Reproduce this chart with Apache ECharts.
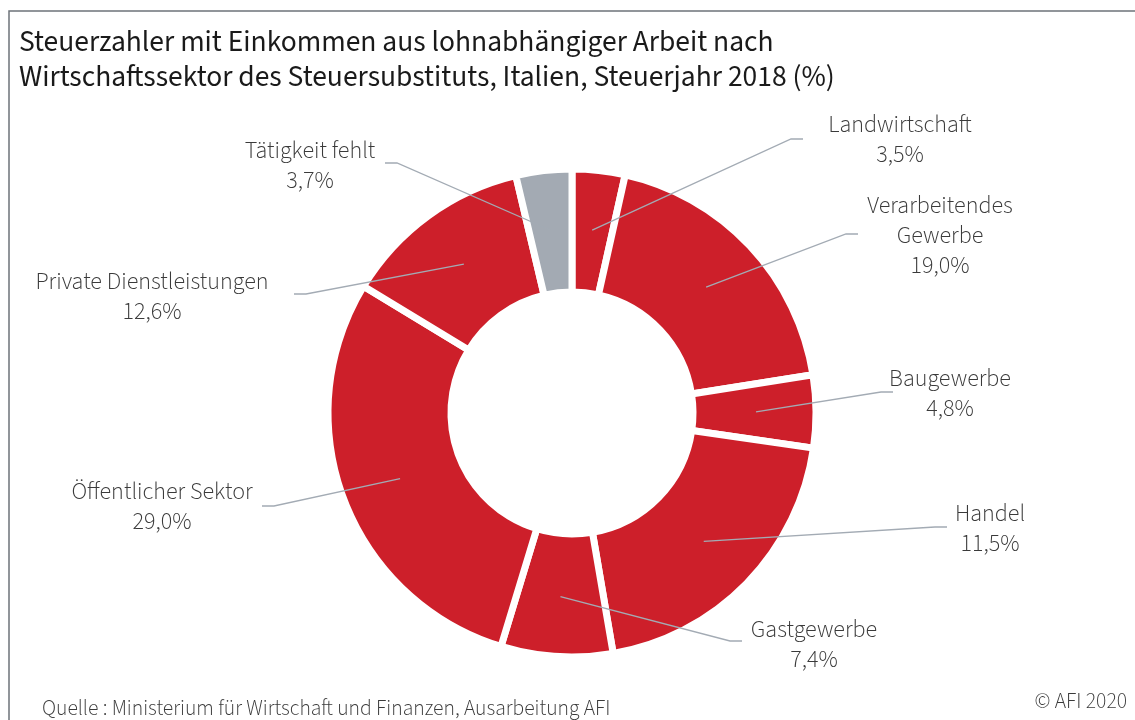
<!DOCTYPE html>
<html>
<head>
<meta charset="utf-8">
<script src="https://cdn.jsdelivr.net/npm/echarts@6/dist/echarts.min.js"></script>
<style>
  html, body { margin: 0; padding: 0; background: #fff; }
  #chart { width: 1135px; height: 720px; }
</style>
</head>
<body>
<div id="chart"></div>
<script>
// sectors, clockwise starting at 12 o'clock
var sectors = ['Landwirtschaft', 'Verarbeitendes\nGewerbe', 'Baugewerbe', 'Handel', 'Gastgewerbe', 'Öffentlicher Sektor', 'Private Dienstleistungen', 'Tätigkeit fehlt']
// slice sizes as drawn in the chart (%)
var sliceValues = [3.5, 19.0, 4.8, 20.0, 7.4, 29.0, 12.6, 3.7]
// percentages printed in the labels
var labelShares = [3.5, 19.0, 4.8, 11.5, 7.4, 29.0, 12.6, 3.7]

// label placement (text centre) and where the leader line ends
var labelCenter = [[900, 142], [940, 238], [950, 396], [990, 531], [814, 647], [162, 509], [152, 299], [310, 168]]
var lineEnd = [[803, 139], [858, 234], [893, 392], [947, 527], [742, 641], [262, 506], [294, 294], [385, 163]]

var CENTER = [572, 413]
var MID_R = 184 // leader lines start half way through the ring
var RED = '#cd1f2a'
var GREY = '#a3aab3'
var FONT = "'Source Sans Pro', 'Source Sans 3', Lato, 'Open Sans', sans-serif"

var total = sliceValues.reduce(function (a, b) { return a + b }, 0)
// start point of each leader line: middle of the slice, middle of the ring
var lineStart = []
var acc = 0
sliceValues.forEach(function (v) {
  var a = (acc + v / 2) / total * Math.PI * 2
  lineStart.push([CENTER[0] + MID_R * Math.sin(a), CENTER[1] - MID_R * Math.cos(a)])
  acc += v
})

var myChart = echarts.init(document.getElementById('chart'))

var option = {
  backgroundColor: '#fff',
  animation: false,
  title: {
    text: 'Steuerzahler mit Einkommen aus lohnabhängiger Arbeit nach\nWirtschaftssektor des Steuersubstituts, Italien, Steuerjahr 2018 (%)',
    left: 19,
    top: 27,
    padding: 0,
    textStyle: {
      fontFamily: FONT,
      fontSize: 29.5,
      fontWeight: 'normal',
      color: '#1a1a1a',
      lineHeight: 35
    }
  },
  graphic: [
    {
      type: 'rect',
      shape: { x: 9, y: 11, width: 1300, height: 900 },
      style: { fill: 'none', stroke: '#6d737a', lineWidth: 1.5 },
      silent: true
    },
    {
      type: 'text',
      x: 42,
      y: 710,
      style: {
        text: 'Quelle : Ministerium für Wirtschaft und Finanzen, Ausarbeitung AFI',
        font: '300 21.5px ' + FONT,
        fill: '#3a3a3a',
        textVerticalAlign: 'middle'
      }
    },
    {
      type: 'text',
      x: 1127,
      y: 703,
      style: {
        text: '© AFI 2020',
        font: '300 21.5px ' + FONT,
        fill: '#3a3a3a',
        textAlign: 'right',
        textVerticalAlign: 'middle'
      }
    }
  ],
  series: [
    {
      type: 'pie',
      z: 2,
      center: CENTER,
      radius: [121, 244],
      startAngle: 90,
      clockwise: true,
      silent: true,
      itemStyle: { borderColor: '#fff', borderWidth: 7 },
      label: { show: false },
      labelLine: { show: false },
      data: sectors.map(function (name, i) {
        return {
          name: name,
          value: sliceValues[i],
          itemStyle: { color: name === 'Tätigkeit fehlt' ? GREY : RED }
        }
      })
    },
    {
      // invisible copy on top, carries labels and leader lines
      type: 'pie',
      z: 3,
      center: CENTER,
      radius: [0, MID_R],
      startAngle: 90,
      clockwise: true,
      avoidLabelOverlap: false,
      silent: true,
      emphasis: { disabled: true },
      label: {
        show: true,
        position: 'outside',
        fontFamily: FONT,
        fontWeight: 300,
        fontSize: 24,
        lineHeight: 30,
        color: '#3a3a3a',
        align: 'center',
        formatter: function (p) {
          return p.name + '\n' + labelShares[p.dataIndex].toFixed(1).replace('.', ',') + '%'
        }
      },
      labelLine: {
        show: true,
        lineStyle: { color: '#a3abb4', width: 1.3 }
      },
      labelLayout: function (p) {
        var i = p.dataIndex
        var c = labelCenter[i]
        var e = lineEnd[i]
        var s = lineStart[i]
        var dir = e[0] > s[0] ? 1 : -1
        return {
          x: c[0],
          y: c[1],
          align: 'center',
          verticalAlign: 'middle',
          labelLinePoints: [s, [e[0] - 12 * dir, e[1]], e]
        }
      },
      data: sectors.map(function (name, i) {
        return {
          name: name,
          value: sliceValues[i],
          itemStyle: { color: 'rgba(0,0,0,0)' }
        }
      })
    }
  ]
}
myChart.setOption(option)
</script>
</body>
</html>
